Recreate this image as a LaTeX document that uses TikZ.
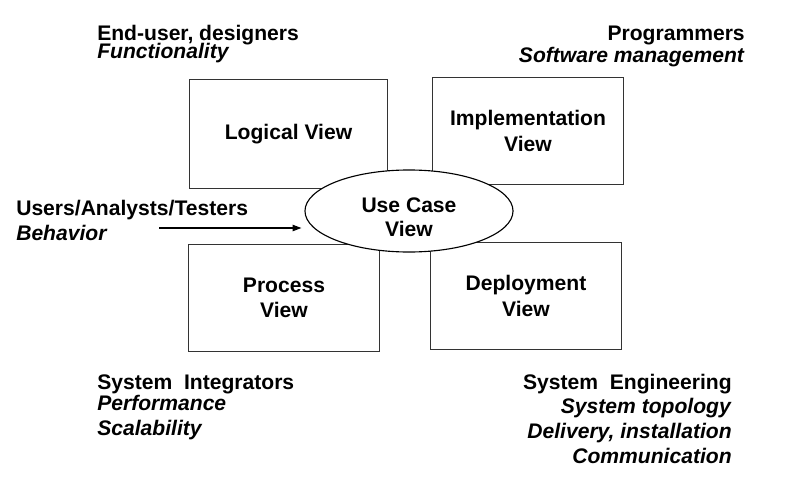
\documentclass[tikz,border=0pt]{standalone}
\usepackage{fontspec}
\setmainfont{Liberation Sans}
\usetikzlibrary{arrows.meta, positioning, shapes.geometric}

\begin{document}
\begin{tikzpicture}[
        x=0.025cm, y=-0.025cm,
        font=\fontsize{15}{17}\selectfont\bfseries,
        view/.style={draw=black!80, line width=0.7pt, align=center, font=\fontsize{15}{18}\selectfont\bfseries},
        who/.style={inner sep=0pt},
        arrow/.style={-{Triangle[length=2.2mm, width=1.6mm]}, line width=0.8pt}
        ]

        \useasboundingbox (0,0) rectangle (802,486);

        % The four views
        \node[view, minimum width=4.925cm, minimum height=2.7cm] (Logical) at (288.5,134) {Logical View};
        \node[view, minimum width=4.75cm, minimum height=2.65cm] (Implementation) at (528,131) {Implementation\\ View};
        \node[view, minimum width=4.75cm, minimum height=2.65cm] (Process) at (284,298) {Process\\ View};
        \node[view, minimum width=4.75cm, minimum height=2.65cm] (Deployment) at (526,296) {Deployment\\ View};

        % Use case in the middle (text sits a bit low in the ellipse)
        \node[view, ellipse, fill=white, line width=0.8pt, draw=black, minimum width=5.2cm, minimum height=2.05cm,
              label={[align=center, font=\fontsize{15}{17}\selectfont\bfseries, yshift=-0.15cm]center:Use Case\\ View}] (UseCase) at (409,211) {};

        % Who looks at which view (anchored on the last line)
        \node[who, anchor=base west, align=left] (EndUser) at (97,59) {End-user, designers\\[-3.5pt] \textit{Functionality}};
        \node[who, anchor=base east, align=right] (Programmers) at (745,63) {Programmers\\[-0.7pt] \textit{Software management}};
        \node[who, anchor=base west, align=left] (Users) at (16,240) {Users/Analysts/Testers\\[0.7pt] \textit{Behavior}};
        \node[who, anchor=base west, align=left] (Integrators) at (97,435) {System\ \ Integrators\\[-2pt] \textit{Performance}\\[0.7pt] \textit{Scalability}};
        \node[who, anchor=base east, align=right] (Engineering) at (732,463) {System\ \ Engineering\\ \textit{System topology}\\[0.7pt] \textit{Delivery, installation}\\[0.7pt] \textit{Communication}};

        % Arrow into the use case
        \coordinate (behaviour) at (159,228);
        \draw [arrow, shorten >=0.075cm] (behaviour) -- (behaviour -| UseCase.west);

    \end{tikzpicture}
\end{document}
